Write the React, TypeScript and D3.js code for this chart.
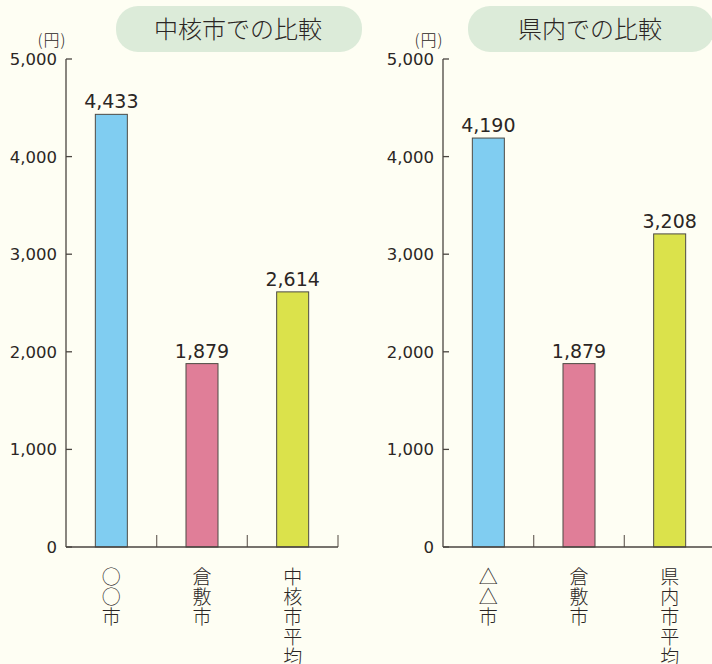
import React from "react";
import * as d3 from "d3";

const leftTitle = "中核市での比較";
const rightTitle = "県内での比較";
const leftCategories = ["○○市", "倉敷市", "中核市平均"];
const rightCategories = ["△△市", "倉敷市", "県内市平均"];
const leftValues = [4433, 1879, 2614];
const rightValues = [4190, 1879, 3208];
const barColors = ["#80cdf1", "#e07e98", "#dbe24b"];
const yTicks = [0, 1000, 2000, 3000, 4000, 5000];
const unitLabel = "(円)";

const CJK = "'Noto Sans CJK JP', 'Noto Sans', sans-serif";
const NUM = "'DejaVu Sans', 'Noto Sans', sans-serif";
const TEXT = "#2b2624";
const AXIS = "#4a4540";

type PanelProps = {
  x0: number;
  title: string;
  titleBoxX: number;
  categories: string[];
  values: number[];
};

function Panel({ x0, title, titleBoxX, categories, values }: PanelProps) {
  const y = d3.scaleLinear().domain([0, 5000]).range([547, 59]);
  const x = d3.scaleBand<string>().domain(categories).range([x0, x0 + 272]).padding(0);
  const bw = x.bandwidth() * 0.353;
  const fmt = d3.format(",");
  return (
    <g>
      <rect x={titleBoxX} y={6} width={246} height={46} rx={22} fill="#dcebd9" />
      <text x={titleBoxX + 122} y={38} textAnchor="middle" fontSize={24} fontWeight={300} fill={TEXT} fontFamily={CJK}>
        {title}
      </text>
      <text x={x0 - 14} y={46} textAnchor="middle" fontSize={16} fontWeight={300} fill={TEXT} fontFamily={CJK} letterSpacing={1}>
        {unitLabel}
      </text>
      {yTicks.map((t) => (
        <g key={t}>
          <line x1={x0} x2={x0 + 6} y1={y(t)} y2={y(t)} stroke={AXIS} strokeWidth={1.3} />
          <text x={x0 - 9} y={y(t) + 6} textAnchor="end" fontSize={16.5} fill={TEXT} fontFamily={NUM}>
            {fmt(t)}
          </text>
        </g>
      ))}
      {categories.map((c, i) => {
        const cx = (x(c) as number) + x.bandwidth() / 2;
        return (
          <g key={c}>
            <rect
              x={cx - bw / 2}
              y={y(values[i])}
              width={bw}
              height={y(0) - y(values[i])}
              fill={barColors[i]}
              stroke="#4d4a44"
              strokeWidth={1}
            />
            <text x={cx} y={y(values[i]) - 6} textAnchor="middle" fontSize={19} fill={TEXT} fontFamily={NUM}>
              {fmt(values[i])}
            </text>
            <text
              x={cx}
              y={567}
              fontSize={19}
              fontWeight={300}
              fill={TEXT}
              fontFamily={CJK}
              letterSpacing={1}
              style={{ writingMode: "vertical-rl" }}
            >
              {c}
            </text>
            <line
              x1={(x(c) as number) + x.bandwidth()}
              x2={(x(c) as number) + x.bandwidth()}
              y1={y(0)}
              y2={y(0) - 12}
              stroke="#7a736b"
              strokeWidth={1.3}
            />
          </g>
        );
      })}
      <line x1={x0} x2={x0} y1={y(0)} y2={y(5000)} stroke={AXIS} strokeWidth={1.3} />
      <line x1={x0} x2={x0 + 272} y1={y(0)} y2={y(0)} stroke={AXIS} strokeWidth={1.5} />
    </g>
  );
}

export default function App() {
  return (
    <svg
      width={712}
      height={664}
      style={{ position: "absolute", left: 0, top: 0, display: "block" }}
    >
      <rect x={0} y={0} width={712} height={664} fill="#fefef3" />
      <Panel x0={66} title={leftTitle} titleBoxX={116} categories={leftCategories} values={leftValues} />
      <Panel x0={443} title={rightTitle} titleBoxX={468} categories={rightCategories} values={rightValues} />
    </svg>
  );
}
